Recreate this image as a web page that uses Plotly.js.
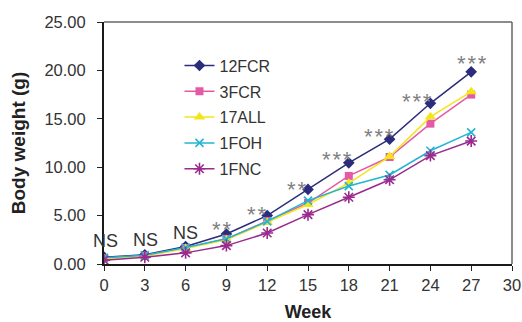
<!DOCTYPE html>
<html>
<head>
<meta charset="utf-8">
<script src="https://cdn.plot.ly/plotly-3.0.1.min.js"></script>
<style>html,body{margin:0;padding:0;background:#fff}#chart{width:522px;height:322px}</style>
</head>
<body>
<div id="chart"></div>
<script>
// ---- data ----
const weeks = [0, 3, 6, 9, 12, 15, 18, 21, 24, 27];
const seriesNames = ['12FCR', '3FCR', '17ALL', '1FOH', '1FNC'];
const fcr12 = [0.70, 0.95, 1.80, 3.10, 5.00, 7.70, 10.45, 12.90, 16.60, 19.85];
const fcr3  = [0.60, 0.85, 1.65, 2.60, 4.45, 6.30, 9.10, 11.05, 14.50, 17.50];
const all17 = [0.55, 0.80, 1.60, 2.50, 4.30, 6.15, 8.35, 11.10, 15.20, 17.80];
const foh1  = [0.65, 0.90, 1.70, 2.60, 4.40, 6.55, 8.05, 9.20, 11.70, 13.60];
const fnc1  = [0.40, 0.70, 1.15, 1.90, 3.20, 5.10, 6.90, 8.70, 11.20, 12.70];
const sigLabels = ['NS', 'NS', 'NS', '**', '**', '**', '***', '***', '***', '***'];
const yTickVals = [0, 5, 10, 15, 20, 25];
const xTickVals = [0, 3, 6, 9, 12, 15, 18, 21, 24, 27, 30];

// ---- styles ----
const FONT = 'Liberation Sans, Arial, Helvetica, sans-serif';
const styles = [
  {color: '#2B2C7C', symbol: 'diamond', size: 9, lw: 0},
  {color: '#E35AA6', symbol: 'square', size: 8, lw: 0},
  {color: '#F4E51B', symbol: 'triangle-up', size: 10, lw: 0},
  {color: '#22B5D3', symbol: 'x-thin', size: 8, lw: 1.6},
  {color: '#9A2B8E', symbol: 'asterisk', size: 10, lw: 1.6}
];
const allSeries = [fcr12, fcr3, all17, foh1, fnc1];

const traces = allSeries.map((vals, i) => {
  const s = styles[i];
  return {
    x: weeks, y: vals, name: seriesNames[i], type: 'scatter', mode: 'lines+markers',
    legendgroup: 'g' + i,
    line: {color: s.color, width: 1.5},
    marker: {symbol: s.symbol, size: s.size, color: s.color,
             line: {color: s.color, width: s.lw}}
  };
});

// label offsets (pixels) relative to the top series point at each week
const offs = [[1,16],[1,15],[0,14],[-5,4],[-11,1],[-12,0],[-12,3],[-11,3],[-13,2],[1,8]];
const annotations = sigLabels.map((t, i) => {
  const top = Math.max(...allSeries.map(a => a[i]));
  const isNS = t === 'NS';
  return {
    x: weeks[i], y: top, xref: 'x', yref: 'y', text: isNS ? t : t.split('').join('\u200A'),
    showarrow: false, xanchor: 'center', yanchor: 'middle',
    xshift: offs[i][0], yshift: offs[i][1],
    font: {family: FONT, size: isNS ? 18 : 22, color: isNS ? '#333333' : '#808080'}
  };
});

const layout = {
  width: 522, height: 322,
  margin: {l: 104, r: 10, t: 22, b: 58},
  paper_bgcolor: '#fff', plot_bgcolor: '#fff',
  font: {family: FONT, color: '#333333', size: 16},
  showlegend: true,
  legend: {x: 0.185, y: 0.89, xanchor: 'left', yanchor: 'top', traceorder: 'grouped',
           tracegroupgap: 2, bgcolor: 'rgba(0,0,0,0)', font: {family: FONT, size: 16, color: '#333'},
           itemwidth: 30},
  xaxis: {
    range: [0, 30], tickvals: xTickVals, ticks: 'outside', ticklen: 5, tickwidth: 1,
    tickcolor: '#222', showgrid: false, zeroline: false, showline: true, linecolor: '#1a1a1a', linewidth: 2,
    tickfont: {family: FONT, size: 16.5, color: '#333'},
    title: {text: '<b>Week</b>', font: {family: FONT, size: 18, color: '#222'}, standoff: 14}
  },
  yaxis: {
    range: [0, 25], tickvals: yTickVals, tickformat: '.2f', ticks: 'outside', ticklen: 5, tickwidth: 1,
    tickcolor: '#222', showgrid: false, zeroline: false, showline: true, linecolor: '#1a1a1a', linewidth: 2,
    tickfont: {family: FONT, size: 16.5, color: '#333'}, ticklabelstandoff: 8,
    title: {text: '<b>Body weight (g)</b>', font: {family: FONT, size: 19, color: '#222'}, standoff: 14}
  },
  shapes: [
    {type: 'line', xref: 'paper', yref: 'paper', x0: 0, x1: 1, y0: 1, y1: 1, line: {color: '#666', width: 1.5}},
    {type: 'line', xref: 'paper', yref: 'paper', x0: 1, x1: 1, y0: 0, y1: 1, line: {color: '#666', width: 1.5}}
  ],
  annotations: annotations
};

Plotly.newPlot('chart', traces, layout, {displayModeBar: false, staticPlot: true});
</script>
</body>
</html>
